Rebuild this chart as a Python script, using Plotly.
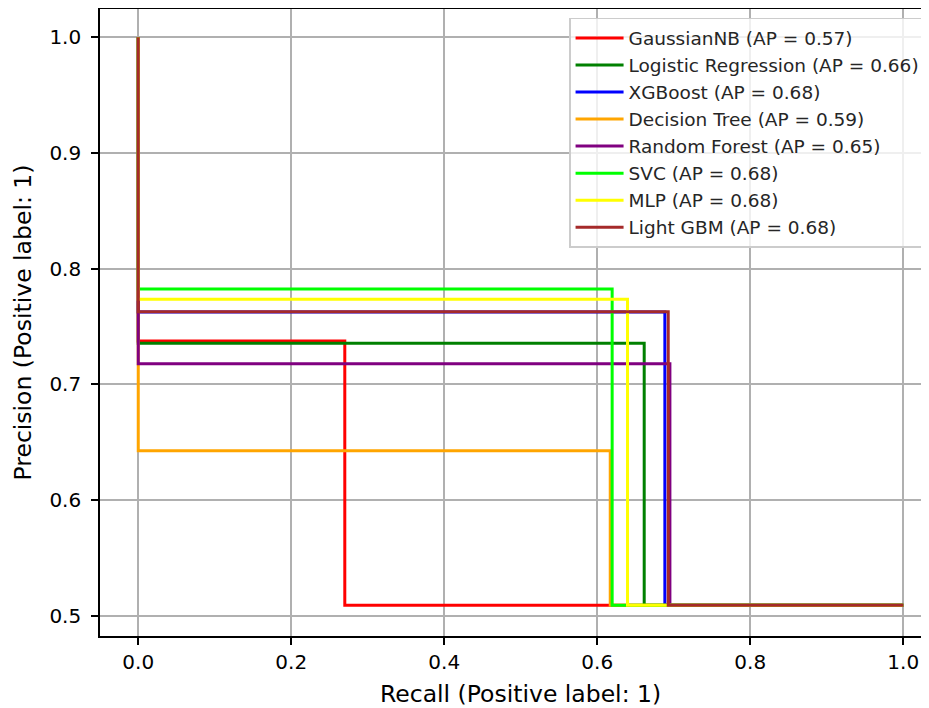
import plotly.graph_objects as go

# ---- data ----
models = ["GaussianNB", "Logistic Regression", "XGBoost", "Decision Tree",
          "Random Forest", "SVC", "MLP", "Light GBM"]
ap_scores = [0.57, 0.66, 0.68, 0.59, 0.65, 0.68, 0.68, 0.68]
colors = ["red", "green", "blue", "orange", "purple", "#00ff00", "#ffff00", "#a52a2a"]

# operating point of each classifier (recall, precision)
mid_recall = [0.270, 0.6614, 0.6884, 0.617, 0.695, 0.6195, 0.6396, 0.6928]
mid_precision = [0.7375, 0.7355, 0.7625, 0.6427, 0.7179, 0.7825, 0.7735, 0.7628]
base_precision = 0.509  # precision at recall = 1 (class prevalence)

x_ticks = [0.0, 0.2, 0.4, 0.6, 0.8, 1.0]
y_ticks = [0.5, 0.6, 0.7, 0.8, 0.9, 1.0]

FONT = "DejaVu Sans"

fig = go.Figure()
for i, name in enumerate(models):
    rec = [1.0, mid_recall[i], 0.0]
    prec = [base_precision, mid_precision[i], 1.0]
    fig.add_trace(go.Scatter(
        x=rec, y=prec, mode="lines", line_shape="hv",
        line=dict(color=colors[i], width=3),
        name=f"{name} (AP = {ap_scores[i]:.2f})",
    ))

axis_common = dict(
    showgrid=True, gridcolor="#b0b0b0", gridwidth=1.6,
    zeroline=False, showline=True, linecolor="black", linewidth=1.6,
    ticks="outside", ticklen=7, tickwidth=1.6, tickcolor="black",
    tickfont=dict(family=FONT, size=20, color="black"),
    tickformat=".1f",
)

# page body has an 8px margin: figure is 921x700 placed at (8, 8)
fig.update_layout(
    width=921, height=700,
    margin=dict(l=92, r=0, t=1, b=72),
    plot_bgcolor="white", paper_bgcolor="white",
    xaxis=dict(range=[-0.05, 1.0337], tickvals=x_ticks, mirror=True, **axis_common),
    yaxis=dict(range=[0.4825, 1.0245], tickvals=y_ticks, ticklabelstandoff=6, **axis_common),
    legend=dict(
        x=0.5657, y=0.986, xanchor="left", yanchor="top",
        bgcolor="rgba(255,255,255,0.8)", bordercolor="#cccccc", borderwidth=1.6,
        font=dict(family=FONT, size=18.5, color="#262626"),
        tracegroupgap=0, itemwidth=48,
    ),
    annotations=[
        dict(text="Recall (Positive label: 1)", xref="paper", yref="paper",
             x=0.5078, y=-0.0925, xanchor="center", yanchor="middle",
             showarrow=False, font=dict(family=FONT, size=23.5, color="black")),
        dict(text="Precision (Positive label: 1)", xref="paper", yref="paper",
             x=-0.0923, y=0.5008, xanchor="center", yanchor="middle", textangle=-90,
             showarrow=False, font=dict(family=FONT, size=23.5, color="black")),
    ],
    showlegend=True,
)

fig.write_html("out.html")
